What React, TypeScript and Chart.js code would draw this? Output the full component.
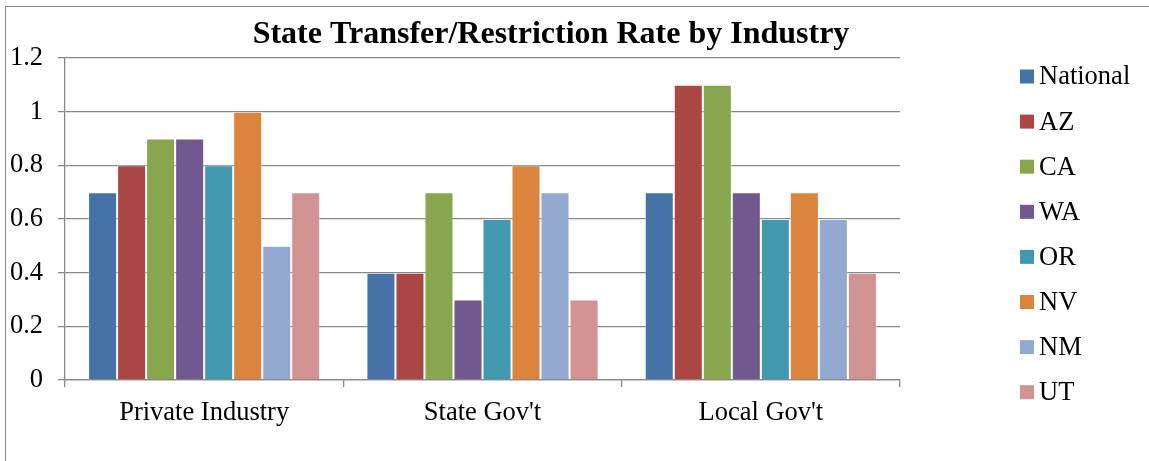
import { useEffect, useRef } from 'react';
import { Chart, registerables } from 'chart.js';

Chart.register(...registerables);

const categories = ["Private Industry", "State Gov't", "Local Gov't"];
const seriesNames = ['National', 'AZ', 'CA', 'WA', 'OR', 'NV', 'NM', 'UT'];
const national = [0.7, 0.4, 0.7];
const az = [0.8, 0.4, 1.1];
const ca = [0.9, 0.7, 1.1];
const wa = [0.9, 0.3, 0.7];
const or = [0.8, 0.6, 0.6];
const nv = [1.0, 0.8, 0.7];
const nm = [0.5, 0.7, 0.6];
const ut = [0.7, 0.3, 0.4];
const seriesValues = [national, az, ca, wa, or, nv, nm, ut];
const colors = ['#4572A7', '#AA4643', '#89A54E', '#71588F', '#4198AF', '#DB843D', '#93A9CF', '#D19392'];
const yMin = 0;
const yMax = 1.2;
const yStep = 0.2;
const title = 'State Transfer/Restriction Rate by Industry';

const FONT = '"Liberation Serif", "Times New Roman", serif';
const GRAY = '#888888';

const decorPlugin = {
  id: 'decor',
  beforeDraw(chart: any) {
    const ctx = chart.ctx;
    ctx.save();
    ctx.fillStyle = '#ffffff';
    ctx.fillRect(0, 0, chart.width, chart.height);
    ctx.strokeStyle = GRAY;
    ctx.lineWidth = 1;
    ctx.strokeRect(5.5, 6.5, chart.width + 50, chart.height + 50);
    ctx.restore();
  },
  afterDraw(chart: any) {
    const ctx = chart.ctx;
    ctx.save();
    ctx.fillStyle = '#000000';
    ctx.font = `bold 32px ${FONT}`;
    ctx.textAlign = 'center';
    ctx.textBaseline = 'alphabetic';
    ctx.fillText(title, 551, 43);
    // legend
    ctx.font = `26.5px ${FONT}`;
    ctx.textAlign = 'left';
    ctx.textBaseline = 'middle';
    chart.data.datasets.forEach((ds: any, i: number) => {
      const cy = 76.5 + i * 45.1;
      ctx.fillStyle = ds.backgroundColor;
      ctx.fillRect(1020, cy - 7, 14, 14);
      ctx.fillStyle = '#000000';
      ctx.fillText(ds.label, 1039, cy + 1);
    });
    ctx.restore();
  },
};

export default function App() {
  const ref = useRef<HTMLCanvasElement | null>(null);
  useEffect(() => {
    if (!ref.current) return;
    const chart = new Chart(ref.current, {
      type: 'bar',
      data: {
        labels: categories,
        datasets: seriesNames.map((name, i) => ({
          label: name,
          data: seriesValues[i],
          backgroundColor: colors[i],
          borderColor: 'rgba(255,255,255,0.4)',
          borderWidth: 1,
          barPercentage: 1,
          categoryPercentage: 0.834,
        })),
      },
      options: {
        animation: false,
        responsive: true,
        maintainAspectRatio: false,
        layout: { padding: { left: 0, top: 58, right: 249, bottom: 0 } },
        plugins: {
          legend: { display: false },
          title: { display: false },
          tooltip: { enabled: false },
        },
        scales: {
          x: {
            grid: {
              offset: true,
              drawOnChartArea: false,
              drawTicks: true,
              tickLength: 7,
              color: GRAY,
              lineWidth: 1.3,
            },
            border: { display: true, color: GRAY, width: 1.3 },
            ticks: {
              color: '#000000',
              font: { family: FONT, size: 26.5 },
              padding: 10,
              maxRotation: 0,
            },
            afterFit: (scale: any) => {
              scale.height = 81;
            },
          },
          y: {
            min: yMin,
            max: yMax,
            grid: {
              color: GRAY,
              lineWidth: 1.3,
              tickLength: 7,
              drawTicks: true,
            },
            border: { display: true, color: GRAY, width: 1.3 },
            ticks: {
              stepSize: yStep,
              color: '#000000',
              font: { family: FONT, size: 26.5 },
              padding: 15,
              callback: (v: any) => String(Number(Number(v).toFixed(1))),
            },
            afterFit: (scale: any) => {
              scale.width = 65;
            },
          },
        },
      },
      plugins: [decorPlugin],
    });
    return () => chart.destroy();
  }, []);
  return (
    <div style={{ position: 'absolute', left: 0, top: 0, width: 1149, height: 461, background: '#fff' }}>
      <canvas ref={ref} />
    </div>
  );
}
